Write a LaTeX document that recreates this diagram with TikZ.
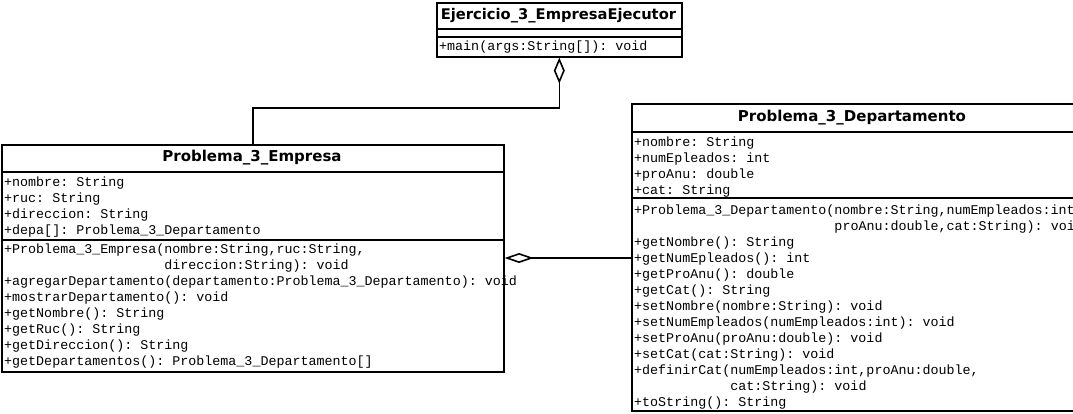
\documentclass[tikz,border=0pt]{standalone}
\usepackage{fontspec}
\setmainfont{DejaVu Sans}
\setmonofont{Liberation Mono}
\usetikzlibrary{arrows.meta}

\begin{document}
\begin{tikzpicture}[x=1pt,y=-1pt,
 umlbox/.style={draw,line width=1.6pt,inner sep=0pt,anchor=north west},
 classname/.style={font=\fontsize{15}{18}\selectfont\bfseries,inner sep=0pt},
 member/.style={font=\fontsize{13.35}{16}\selectfont\ttfamily,anchor=base west,inner sep=0pt},
 divider/.style={line width=1.6pt},
 aggrV/.style={line width=1.6pt,-{Diamond[open,length=26pt,width=11pt,line width=1.6pt]}},
 aggrH/.style={line width=1.6pt,-{Diamond[open,length=29pt,width=10pt,line width=1.6pt]}}]
\useasboundingbox (0,0) rectangle (1073,413);
\clip (0,0) rectangle (1073,413);
% class boxes
\node[umlbox,minimum width=245pt,minimum height=54pt] (ejec) at (436,2) {};
\node[umlbox,minimum width=502pt,minimum height=227pt] (emp) at (1,144) {};
\node[umlbox,minimum width=470pt,minimum height=307pt] (dept) at (631,103) {};
% titles
\node[classname,font=\fontsize{14.7}{18}\selectfont\bfseries] (ejecT) at (558.5,15.5) {Ejercicio\_3\_EmpresaEjecutor};
\node[classname] (empT) at (252,158) {Problema\_3\_Empresa};
\node[classname] (deptT) at (852,118) {Problema\_3\_Departamento};
% compartments
\draw[divider] (436,29) -- (681,29);
\draw[divider] (436,37) -- (681,37);
\draw[divider] (1,172) -- (503,172);
\draw[divider] (1,240) -- (503,240);
\draw[divider] (631,132) -- (1073,132);
\draw[divider] (631,198) -- (1073,198);
% members
\node[member] (ejecM) at (439,50) {+main(args:String[]): void};
\foreach \t [count=\i from 0] in {{+nombre: String},{+ruc: String},{+direccion: String},
 {+depa[]: Problema\_3\_Departamento}}
 \node[member] at (4,186+16*\i) {\t};
\foreach \t [count=\i from 0] in {{+Problema\_3\_Empresa(nombre:String,ruc:String,},
 {\phantom{+Problema\_3\_Empresa(}direccion:String): void},
 {+agregarDepartamento(departamento:Problema\_3\_Departamento): void},
 {+mostrarDepartamento(): void},{+getNombre(): String},{+getRuc(): String},
 {+getDireccion(): String},{+getDepartamentos(): Problema\_3\_Departamento[]}}
 \node[member] at (4,253+16*\i) {\t};
\foreach \t [count=\i from 0] in {{+nombre: String},{+numEpleados: int},{+proAnu: double},
 {+cat: String}}
 \node[member] at (634,146+16*\i) {\t};
\foreach \t [count=\i from 0] in {{+Problema\_3\_Departamento(nombre:String,numEmpleados:int,},
 {\phantom{+Problema\_3\_Departamento(}proAnu:double,cat:String): void},
 {+getNombre(): String},{+getNumEpleados(): int},{+getProAnu(): double},
 {+getCat(): String},{+setNombre(nombre:String): void},
 {+setNumEmpleados(numEmpleados:int): void},{+setProAnu(proAnu:double): void},
 {+setCat(cat:String): void},{+definirCat(numEmpleados:int,proAnu:double,},
 {\phantom{+definirCat(}cat:String): void},{+toString(): String}}
 \node[member] at (634,214+16*\i) {\t};
% associations
\coordinate (aggY) at (0,258);
\draw[aggrV] (emp.north) -- ++(0,-36) -| (ejec.south);
\draw[aggrH] (dept.west |- aggY) -- (emp.east |- aggY);
\end{tikzpicture}
\end{document}
